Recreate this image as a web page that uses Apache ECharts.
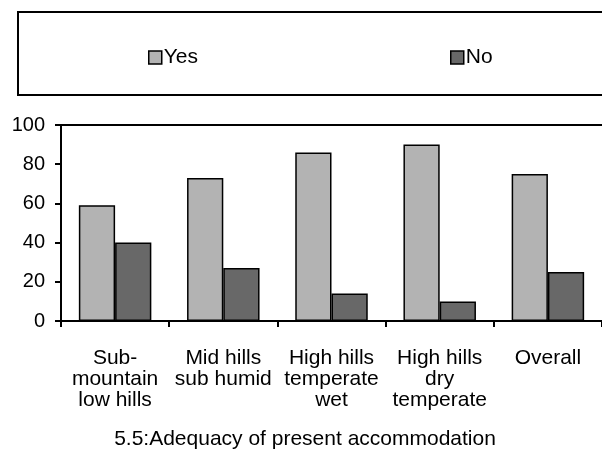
<!DOCTYPE html>
<html>
<head>
<meta charset="utf-8">
<script src="https://cdn.jsdelivr.net/npm/echarts@6/dist/echarts.min.js"></script>
<style>
html,body{margin:0;padding:0;background:#fff;}
#chart{width:602px;height:455px;}
</style>
</head>
<body>
<div id="chart"></div>
<script>
const categories = [
  'Sub-\nmountain\nlow hills',
  'Mid hills\nsub humid',
  'High hills\ntemperate\nwet',
  'High hills\ndry\ntemperate',
  'Overall'
];
const yesValues = [59, 73, 86, 90, 75];
const noValues = [40, 27, 14, 10, 25];
const yTicks = { min: 0, max: 100, interval: 20 };
const titleText = '5.5:Adequacy of present accommodation';

const FONT = 'Liberation Sans, Arial, sans-serif';
const chart = echarts.init(document.getElementById('chart'), null, { renderer: 'canvas' });
chart.setOption({
  backgroundColor: '#fff',
  animation: false,
  title: {
    text: titleText,
    left: 300,
    top: 424,
    textAlign: 'center',
    textStyle: { fontFamily: FONT, fontSize: 21, fontWeight: 'normal', color: '#000' }
  },
  graphic: [{
    type: 'rect',
    shape: { x: 18, y: 12, width: 620, height: 83 },
    style: { fill: 'none', stroke: '#000', lineWidth: 2 },
    z: -1
  }],
  legend: [
    {
      data: ['Yes'], left: 143, top: 42, icon: 'rect', itemWidth: 13, itemHeight: 13, itemGap: 4,
      textStyle: { fontFamily: FONT, fontSize: 21, color: '#000', padding: [0, 0, 0, -3] },
      itemStyle: { borderColor: '#000', borderWidth: 1.5 }
    },
    {
      data: ['No'], left: 445, top: 42, icon: 'rect', itemWidth: 13, itemHeight: 13, itemGap: 4,
      textStyle: { fontFamily: FONT, fontSize: 21, color: '#000', padding: [0, 0, 0, -3] },
      itemStyle: { borderColor: '#000', borderWidth: 1.5 }
    }
  ],
  grid: { left: 61, top: 125, width: 553, height: 196, containLabel: false },
  xAxis: [
    {
      type: 'category',
      data: categories,
      axisLine: { show: true, lineStyle: { color: '#000', width: 2 } },
      axisTick: { show: true, length: 6, lineStyle: { color: '#000', width: 2 } },
      axisLabel: {
        interval: 0, margin: 27, color: '#000', fontFamily: FONT, fontSize: 21, lineHeight: 21
      },
      splitLine: { show: false }
    },
    {
      type: 'category',
      data: categories,
      position: 'top',
      axisLine: { show: true, lineStyle: { color: '#000', width: 2 } },
      axisTick: { show: false },
      axisLabel: { show: false },
      splitLine: { show: false }
    }
  ],
  yAxis: {
    type: 'value',
    min: yTicks.min, max: yTicks.max, interval: yTicks.interval,
    axisLine: { show: true, lineStyle: { color: '#000', width: 2 } },
    axisTick: { show: true, length: 6, lineStyle: { color: '#000', width: 2 } },
    axisLabel: { margin: 16, color: '#000', fontFamily: FONT, fontSize: 20 },
    splitLine: { show: false }
  },
  series: [
    {
      name: 'Yes', type: 'bar', data: yesValues, barGap: '0%', barCategoryGap: '33%',
      itemStyle: { color: '#b3b3b3', borderColor: '#000', borderWidth: 1.5 }
    },
    {
      name: 'No', type: 'bar', data: noValues, barGap: '0%', barCategoryGap: '33%',
      itemStyle: { color: '#686868', borderColor: '#000', borderWidth: 1.5 }
    }
  ]
});
</script>
</body>
</html>
